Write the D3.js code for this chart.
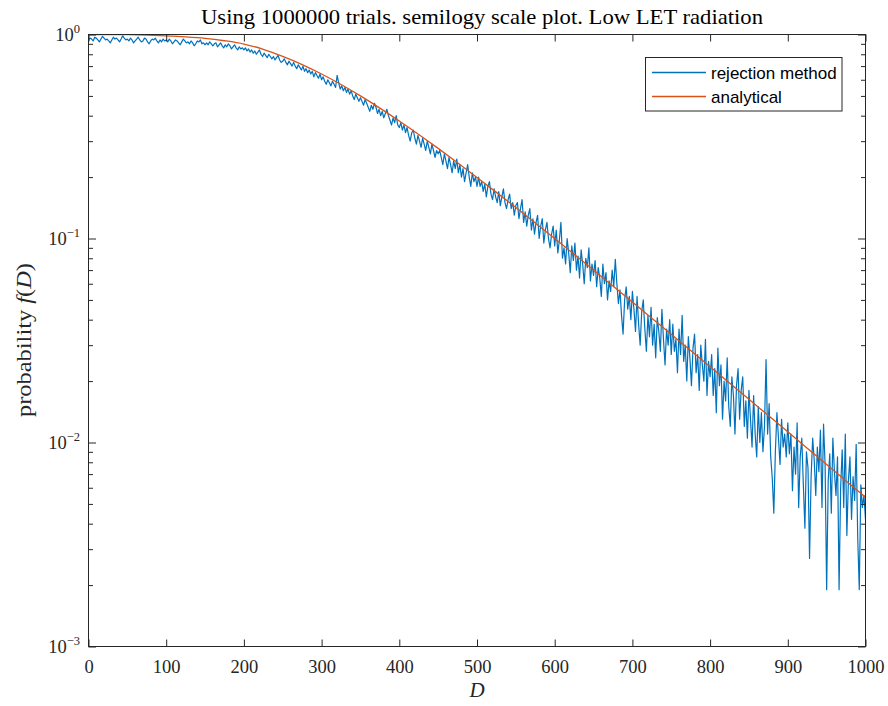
<!DOCTYPE html>
<html><head><meta charset="utf-8">
<script src="https://cdn.jsdelivr.net/npm/d3@7"></script>
<style>body{margin:0;background:#fff}</style>
</head><body>
<svg id="c" width="888" height="706"></svg>
<script>
// ---------- data ----------
const titleText = "Using 1000000 trials. semilogy scale plot. Low LET radiation";
const seriesNames = ["rejection method", "analytical"];
const xTickValues = [0, 100, 200, 300, 400, 500, 600, 700, 800, 900, 1000];
const yDecadeValues = [1e-3, 1e-2, 1e-1, 1];
const yDecadeExponents = ["\u22123", "\u22122", "\u22121", "0"];

const rejectionStep = 2; // D spacing of the simulated histogram samples
const rejectionValues = [
  0.94,
  0.96,0.95,0.93,0.97,0.96,0.94,0.92,0.95,0.98,0.96,0.94,0.95,0.93,0.91,0.94,0.97,0.95,0.96,0.94,0.92,0.95,0.985,0.96,0.94,0.95,
  0.93,0.96,0.94,0.91,0.93,0.95,0.97,0.94,0.92,0.93,0.96,0.95,0.92,0.90,0.93,0.95,0.94,0.96,0.93,0.91,0.94,0.92,0.95,0.93,0.94,
  0.92,0.95,0.93,0.90,0.92,0.94,0.93,0.91,0.89,0.92,0.95,0.93,0.91,0.92,0.90,0.93,0.91,0.88,0.90,0.93,0.92,0.94,0.90,0.91,0.89,
  0.91,0.89,0.92,0.90,0.88,0.90,0.91,0.87,0.89,0.91,0.88,0.86,0.89,0.87,0.90,0.88,0.85,0.87,0.89,0.86,0.84,0.87,0.85,0.86,0.84,
  0.86,0.83,0.85,0.82,0.84,0.81,0.83,0.80,0.82,0.84,0.80,0.78,0.81,0.79,0.77,0.80,0.78,0.76,0.78,0.75,0.77,0.79,0.75,0.73,0.74,
  0.76,0.73,0.71,0.74,0.72,0.70,0.73,0.70,0.68,0.71,0.69,0.67,0.70,0.66,0.68,0.65,0.67,0.64,0.66,0.62,0.65,0.63,0.61,0.64,0.60,
  0.62,0.59,0.57,0.60,0.58,0.56,0.59,0.57,0.55,0.63,0.58,0.54,0.56,0.53,0.55,0.52,0.54,0.51,0.53,0.50,0.48,0.51,0.49,0.47,0.49,
  0.47,0.45,0.48,0.46,0.44,0.42,0.45,0.43,0.46,0.44,0.41,0.43,0.40,0.42,0.39,0.41,0.43,0.40,0.38,0.36,0.39,0.37,0.40,0.36,0.35,
  0.37,0.34,0.36,0.33,0.35,0.32,0.30,0.33,0.34,0.31,0.29,0.32,0.30,0.28,0.31,0.29,0.27,0.30,0.28,0.26,0.29,0.27,0.25,0.27,0.26,
  0.27,0.25,0.23,0.26,0.24,0.22,0.25,0.23,0.21,0.24,0.22,0.245,0.21,0.23,0.20,0.22,0.19,0.21,0.23,0.20,0.18,0.21,0.19,0.20,0.18,
  0.20,0.18,0.19,0.17,0.185,0.16,0.18,0.19,0.165,0.155,0.175,0.16,0.15,0.17,0.145,0.16,0.175,0.15,0.14,0.155,0.165,0.14,0.15,0.13,0.145,
  0.15,0.125,0.14,0.155,0.12,0.135,0.115,0.13,0.14,0.11,0.125,0.105,0.12,0.13,0.10,0.115,0.125,0.095,0.11,0.12,0.10,0.09,0.105,0.115,0.092,
  0.11,0.085,0.098,0.12,0.08,0.09,0.075,0.10,0.085,0.068,0.092,0.078,0.095,0.07,0.082,0.064,0.088,0.075,0.06,0.08,0.072,0.09,0.062,0.075,0.066,
  0.078,0.058,0.072,0.064,0.052,0.075,0.06,0.068,0.05,0.062,0.055,0.07,0.058,0.079,0.06,0.048,0.056,0.042,0.034,0.05,0.058,0.045,0.052,0.04,0.055,
  0.045,0.035,0.052,0.038,0.03,0.044,0.05,0.036,0.028,0.042,0.033,0.046,0.03,0.038,0.026,0.041,0.035,0.028,0.045,0.032,0.024,0.036,0.03,0.04,0.027,
  0.038,0.028,0.032,0.022,0.036,0.027,0.042,0.025,0.03,0.02,0.033,0.026,0.019,0.029,0.034,0.022,0.027,0.018,0.03,0.024,0.02,0.032,0.017,0.025,0.021,
  0.027,0.017,0.023,0.014,0.029,0.019,0.024,0.013,0.02,0.016,0.026,0.015,0.012,0.021,0.017,0.011,0.019,0.023,0.013,0.018,0.021,0.012,0.016,0.0105,0.018,
  0.013,0.0095,0.017,0.011,0.0085,0.015,0.01,0.014,0.009,0.012,0.0255,0.011,0.0155,0.0085,0.0067,0.0045,0.009,0.014,0.0105,0.0078,0.013,0.0095,0.011,0.0085,0.0125,
  0.0088,0.011,0.0058,0.0095,0.007,0.0125,0.0048,0.0085,0.0105,0.0062,0.0038,0.009,0.0075,0.0027,0.0068,0.0105,0.0082,0.0055,0.0095,0.0072,0.0115,0.0048,0.0123,0.0078,0.0019,
  0.0065,0.0088,0.0045,0.0105,0.0072,0.0055,0.0085,0.0019,0.006,0.0092,0.0048,0.011,0.0035,0.0065,0.0085,0.0042,0.0068,0.0052,0.0098,0.0034,0.0019,0.0062,0.0048,0.0055,0.0042
];

const analyticalStep = 25;
const analyticalValues = [
  1.0, 0.9995, 0.998, 0.993, 0.985, 0.974, 0.958, 0.932, 0.898, 0.846,
  0.7815, 0.712, 0.640, 0.5687, 0.500, 0.4356, 0.3767, 0.3236, 0.2765, 0.2351,
  0.1993, 0.1683, 0.1418, 0.1191, 0.0999, 0.0837, 0.0700, 0.05845, 0.0488, 0.0407,
  0.0339, 0.02826, 0.02354, 0.01959, 0.01629, 0.01356, 0.01128, 0.00938, 0.0078, 0.00648,
  0.0054
];

// ---------- layout ----------
const L = 88.5, R = 865.5, T = 34.5, B = 646.5;
const axisColor = "#262626";
const serif = "'Liberation Serif','Times New Roman',serif";
const sans = "'Liberation Sans',Arial,Helvetica,sans-serif";

const svg = d3.select("#c");
const x = d3.scaleLinear().domain([0, 1000]).range([L, R]);
const y = d3.scaleLog().domain([1e-3, 1]).range([B, T]);

svg.append("defs").append("clipPath").attr("id", "plotclip")
  .append("rect").attr("x", L).attr("y", T).attr("width", R - L).attr("height", B - T);

// data lines
const rejData = rejectionValues.map((v, i) => ({ d: i * rejectionStep, v }));
const anaData = analyticalValues.map((v, i) => ({ d: i * analyticalStep, v }));

const gLines = svg.append("g").attr("clip-path", "url(#plotclip)");
gLines.append("path").datum(rejData)
  .attr("fill", "none").attr("stroke", "#0072BD").attr("stroke-width", 1.2)
  .attr("stroke-linejoin", "round")
  .attr("d", d3.line().x(p => x(p.d)).y(p => y(p.v)));
gLines.append("path").datum(anaData)
  .attr("fill", "none").attr("stroke", "#D95319").attr("stroke-width", 1.3)
  .attr("d", d3.line().curve(d3.curveMonotoneX).x(p => x(p.d)).y(p => y(p.v)));

// axes
function styleAxis(g) {
  g.select(".domain").remove();
  g.selectAll(".tick line").attr("stroke", axisColor).attr("stroke-width", 1);
  g.selectAll(".tick text").attr("fill", axisColor);
}
const gx = svg.append("g").attr("transform", `translate(0,${B})`)
  .call(d3.axisBottom(x).tickValues(xTickValues).tickSize(-7).tickPadding(13).tickFormat(d3.format("d")));
styleAxis(gx);
gx.selectAll(".tick text").attr("font-family", serif).attr("font-size", 18.5);

const gxt = svg.append("g").attr("transform", `translate(0,${T})`)
  .call(d3.axisTop(x).tickValues(xTickValues).tickSize(-7).tickFormat(""));
styleAxis(gxt);

const minorTicks = y.ticks().filter(v => !yDecadeValues.some(d => Math.abs(d - v) / d < 1e-9));
[[d3.axisLeft, L], [d3.axisRight, R]].forEach(([ax, pos]) => {
  const gMaj = svg.append("g").attr("transform", `translate(${pos},0)`)
    .call(ax(y).tickValues(yDecadeValues).tickSize(-7.5).tickFormat(""));
  styleAxis(gMaj);
  const gMin = svg.append("g").attr("transform", `translate(${pos},0)`)
    .call(ax(y).tickValues(minorTicks).tickSize(-4.5).tickFormat(""));
  styleAxis(gMin);
});

// y tick labels 10^k
yDecadeValues.forEach((v, i) => {
  const t = svg.append("text").attr("x", 80).attr("y", y(v) + 6.5)
    .attr("text-anchor", "end").attr("font-family", serif).attr("font-size", 18.5)
    .attr("fill", axisColor).text("10");
  t.append("tspan").attr("dy", -8).attr("font-size", 12.5).text(yDecadeExponents[i]);
});

// frame
svg.append("rect").attr("x", L).attr("y", T).attr("width", R - L).attr("height", B - T)
  .attr("fill", "none").attr("stroke", axisColor).attr("stroke-width", 1);

// title
svg.append("text").attr("x", 482).attr("y", 24).attr("text-anchor", "middle")
  .attr("font-family", serif).attr("font-size", 22).attr("fill", "#000")
  .attr("textLength", 562).attr("lengthAdjust", "spacingAndGlyphs")
  .text(titleText);

// x label
svg.append("text").attr("x", 477).attr("y", 697).attr("text-anchor", "middle")
  .attr("font-family", serif).attr("font-style", "italic").attr("font-size", 21)
  .attr("fill", axisColor).text("D");

// y label
const yl = svg.append("text").attr("transform", "translate(31,340) rotate(-90)")
  .attr("text-anchor", "middle").attr("font-family", serif).attr("font-size", 22)
  .attr("fill", axisColor).attr("textLength", 154).attr("lengthAdjust", "spacingAndGlyphs");
yl.append("tspan").text("probability ");
yl.append("tspan").attr("font-style", "italic").text("f");
yl.append("tspan").text("(");
yl.append("tspan").attr("font-style", "italic").text("D");
yl.append("tspan").text(")");

// legend
const lg = svg.append("g");
lg.append("rect").attr("x", 645.5).attr("y", 57.5).attr("width", 196.5).attr("height", 53.5)
  .attr("fill", "#fff").attr("stroke", axisColor).attr("stroke-width", 1);
const legColors = ["#0072BD", "#D95319"];
const legY = [72.5, 96.5];
seriesNames.forEach((name, i) => {
  lg.append("line").attr("x1", 652).attr("x2", 706).attr("y1", legY[i]).attr("y2", legY[i])
    .attr("stroke", legColors[i]).attr("stroke-width", 1.3);
  lg.append("text").attr("x", 711).attr("y", legY[i] + 6).attr("font-family", sans)
    .attr("font-size", 17).attr("fill", "#000").text(name);
});
</script>
</body></html>
